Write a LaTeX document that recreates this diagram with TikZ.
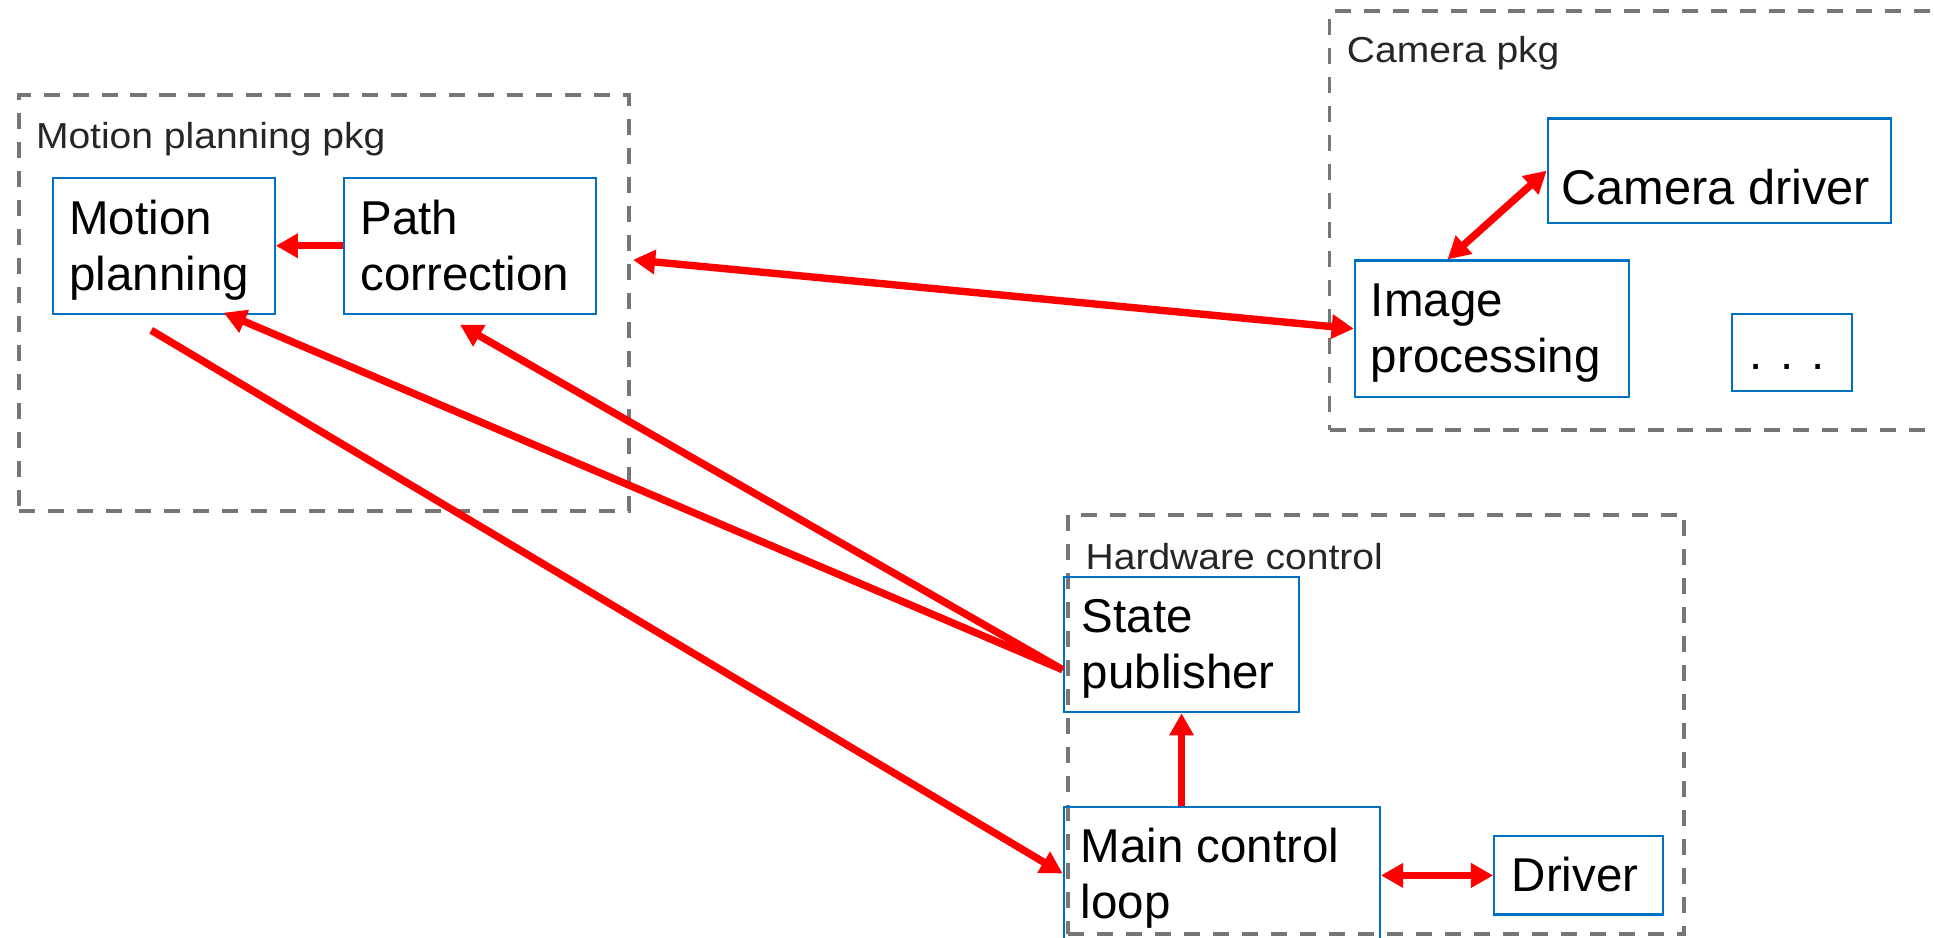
\documentclass[tikz,border=0pt]{standalone}
\usepackage{fontspec}
\setmainfont{Liberation Sans}
\newfontfamily\lblfont[FakeStretch=1.08]{Liberation Sans}
\usetikzlibrary{arrows.meta,calc}
\definecolor{boxblue}{RGB}{0,112,192}
\definecolor{pkggray}{RGB}{118,118,118}
\definecolor{arrred}{RGB}{255,0,0}
\begin{document}
\begin{tikzpicture}[x=1pt,y=-1pt,
  pkg/.style={draw=pkggray, line width=3.2pt, dash pattern=on 13pt off 10.5pt, inner sep=0pt, anchor=north west},
  blk/.style={draw=boxblue, line width=1.8pt, inner sep=0pt, anchor=north west},
  big/.style={font=\fontsize{38.5}{45}\selectfont, inner sep=0pt, anchor=base west, text=black},
  lbl/.style={font=\lblfont\fontsize{29.3}{34}\selectfont, inner sep=0pt, anchor=base west, text=black!85},
  conn/.style={draw=arrred, line width=6pt},
  tipend/.style={-{Triangle[length=18pt,width=19pt]}},
  tipboth/.style={{Triangle[length=18pt,width=19pt]}-{Triangle[length=18pt,width=19pt]}}
]
\useasboundingbox (0,0) rectangle (1568,760);
\clip (0,0) rectangle (1568,760);

% package frames
\node[pkg, minimum width=493.9pt, minimum height=337.3pt] (mpkg) at (14.1,75.7) {};
\node[pkg, minimum width=543.7pt, minimum height=339.7pt] (cpkg) at (1076.3,7.6) {};
\node[pkg, minimum width=499.5pt, minimum height=340.3pt] (hpkg) at (864.5,415.7) {};

\node[lbl] (lmp) at (29,120.3) {Motion planning pkg};
\node[lbl] (lcp) at (1091.8,50.8) {Camera pkg};
\node[lbl] (lhw) at (880,461.6) {Hardware control};

% blocks
\node[blk, minimum width=179.8pt, minimum height=110.1pt] (mp) at (42,143.3) {};
\node[blk, minimum width=204.5pt, minimum height=110.1pt] (pc) at (278,143.3) {};
\node[blk, minimum width=278pt, minimum height=84.7pt] (cd) at (1254,95.1) {};
\node[blk, minimum width=221.9pt, minimum height=110.6pt] (ip) at (1097.6,210.3) {};
\node[blk, minimum width=97.1pt, minimum height=62.8pt] (dots) at (1403.4,253.5) {};
\node[blk, minimum width=190.9pt, minimum height=109.5pt] (sp) at (861.6,467) {};
\node[blk, minimum width=256.2pt, minimum height=126.5pt] (ml) at (861.6,653.5) {};
\node[blk, minimum width=136.6pt, minimum height=63.5pt] (dr) at (1210.6,677.1) {};

% block texts
\node[big] (tmp1) at (56,190.5) {Motion};
\node[big] (tmp2) at (56,235.3) {planning};
\node[big] (tpc1) at (292,190.5) {Path};
\node[big] (tpc2) at (292,235.3) {correction};
\node[big, font=\fontsize{39.5}{45}\selectfont] (tcd) at (1265.7,166.2) {Camera driver};
\node[big] (tip1) at (1111.3,256.8) {Image};
\node[big] (tip2) at (1111.3,301.6) {processing};
\node[big] (tdots) at (1418.5,299.5) {. . .};
\node[big] (tsp1) at (877,513) {State};
\node[big] (tsp2) at (877,558.5) {publisher};
\node[big] (tml1) at (876,699.5) {Main control};
\node[big] (tml2) at (876,744.6) {loop};
\node[big] (tdr) at (1225.5,723) {Driver};

% connector end points
\coordinate (spout) at ($(sp.north west)+(0,76)$);
\coordinate (mpin) at ($(mp.south west)+(139.4,-1.7)$);
\coordinate (pcin) at ($(pc.south west)+(95,8.1)$);
\coordinate (mpout) at ($(mp.south west)+(80.6,12.6)$);
\coordinate (mlin) at ($(ml.north west)+(0,54.7)$);
\coordinate (mpkgr) at ($(mpkg.north east)+(2,135)$);
\coordinate (ipn) at ($(ip.north west)+(76,0)$);

% connectors
\draw[conn,tipend] (pc.west) -- (mp.east);
\draw[conn,tipend] (spout) -- (mpin);
\draw[conn,tipend] (spout) -- (pcin);
\draw[conn,tipend] (mpout) -- (mlin);
\draw[conn,tipboth] (mpkgr) -- (ip.west);
\draw[conn,tipboth] (cd.west) -- (ipn);
\draw[conn,tipend] (sp.south |- ml.north) -- (sp.south);
\draw[conn,tipboth] (ml.east |- dr.west) -- (dr.west);
\end{tikzpicture}
\end{document}
